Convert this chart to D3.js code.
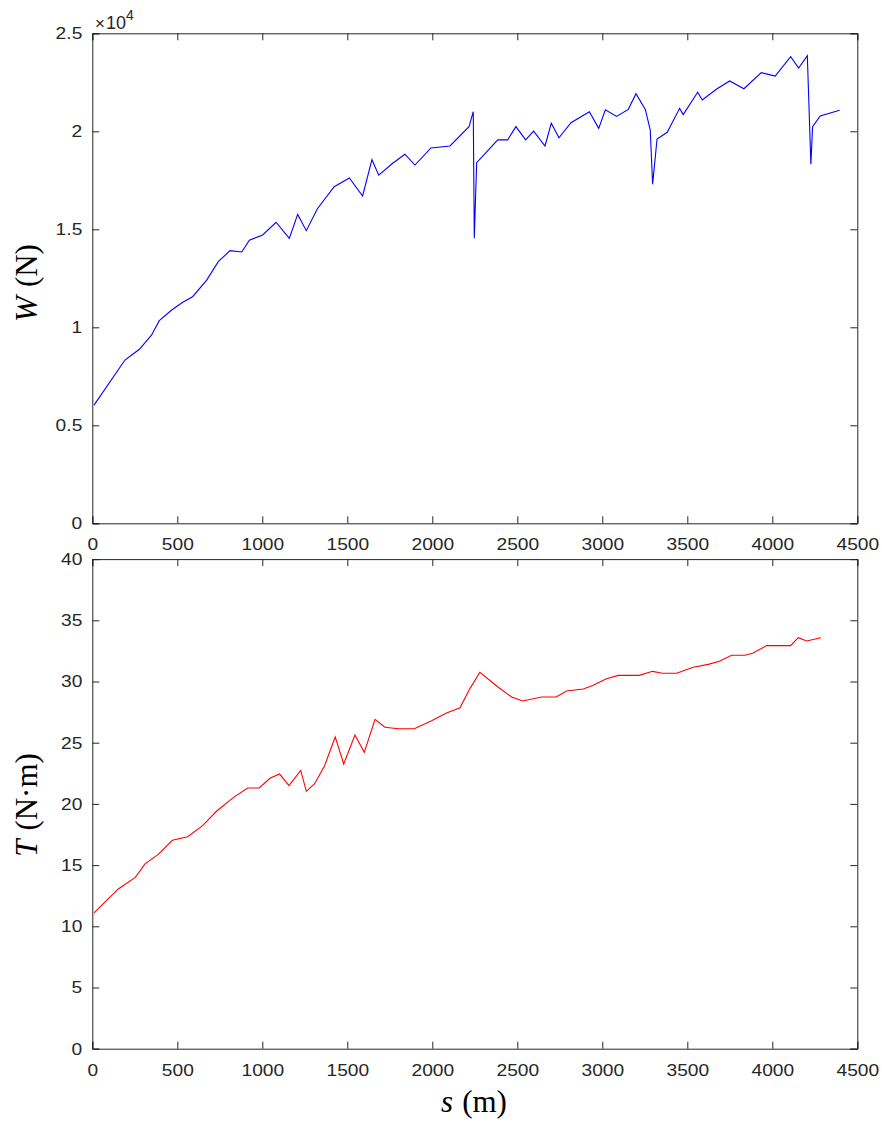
<!DOCTYPE html>
<html><head><meta charset="utf-8">
<script src="https://cdn.jsdelivr.net/npm/d3@7"></script>
<style>
body{margin:0;background:#fff}svg{display:block}
.tk{transform-box:fill-box;transform-origin:center;transform:scaleX(1.13)}
.tkl{transform-box:fill-box;transform-origin:right center;transform:scaleX(1.13)}
</style>
</head><body>
<svg id="c" width="882" height="1122"></svg>
<script>
// Top panel: W (N) vs s (m)
const sW = [10,192,277,349,394,467,532,590,673,741,810,879,924,1002,1081,1159,1208,1259,1324,1423,1512,1590,1645,1685,1767,1839,1898,1992,2104,2216,2241,2247,2261,2385,2443,2492,2549,2596,2663,2700,2745,2816,2924,2979,3018,3084,3153,3198,3253,3282,3296,3322,3382,3455,3476,3561,3588,3675,3749,3833,3935,4017,4108,4155,4206,4227,4237,4282,4396];
const W = [6030,8330,8880,9610,10340,10880,11280,11560,12410,13350,13910,13840,14440,14710,15360,14540,15760,14930,16050,17170,17620,16700,18550,17760,18370,18830,18280,19150,19250,20240,21000,14540,18400,19560,19560,20240,19560,20010,19250,20410,19670,20440,21000,20150,21100,20760,21120,21920,21120,20070,17300,19610,19950,21170,20850,21990,21600,22170,22570,22170,22990,22820,23810,23230,23860,18320,20240,20780,21070];
const yTicksW = [0,0.5,1,1.5,2,2.5];
// Bottom panel: T (N·m) vs s (m)
const sT = [10,153,253,310,388,471,561,649,732,829,914,982,1045,1102,1157,1226,1259,1308,1365,1429,1479,1545,1600,1663,1722,1800,1894,1996,2080,2163,2222,2280,2388,2467,2531,2643,2728,2790,2888,2947,3021,3094,3217,3296,3353,3437,3535,3623,3688,3761,3839,3884,3967,4108,4153,4202,4286];
const T = [11.1,13.05,14.0,15.1,15.88,17.03,17.32,18.22,19.42,20.51,21.3,21.3,22.09,22.44,21.49,22.74,21.03,21.65,23.07,25.47,23.26,25.63,24.21,26.91,26.26,26.14,26.14,26.8,27.4,27.86,29.44,30.75,29.53,28.73,28.41,28.73,28.73,29.22,29.39,29.69,30.2,30.5,30.5,30.83,30.67,30.67,31.16,31.4,31.65,32.14,32.14,32.3,32.93,32.93,33.58,33.31,33.58];
const yTicksT = [0,5,10,15,20,25,30,35,40];
const xTicks = [0,500,1000,1500,2000,2500,3000,3500,4000,4500];

const svg = d3.select("#c");
const axisCol = "#262626";
const sans = "'Liberation Sans',Arial,sans-serif";
const L = 92.3, R = 857.3;
const x = d3.scaleLinear().domain([0,4500]).range([L,R]);

function panel(top, bottom, yDomain, yTicks, xs, ys, color, yFmt) {
  const y = d3.scaleLinear().domain(yDomain).range([bottom, top]);
  const g = svg.append("g");
  const ax = d3.axisBottom(x).tickValues(xTicks).tickSize(-7).tickPadding(15).tickFormat(d3.format("d"));
  const axT = d3.axisTop(x).tickValues(xTicks).tickSize(-7).tickFormat("");
  const ay = d3.axisLeft(y).tickValues(yTicks).tickSize(-7).tickPadding(10).tickFormat(yFmt);
  const ayR = d3.axisRight(y).tickValues(yTicks).tickSize(-7).tickFormat("");
  const gx = g.append("g").attr("transform",`translate(0,${bottom})`).call(ax);
  const gxt = g.append("g").attr("transform",`translate(0,${top})`).call(axT);
  const gy = g.append("g").attr("transform",`translate(${L},0)`).call(ay);
  const gyr = g.append("g").attr("transform",`translate(${R},0)`).call(ayR);
  [gx,gxt,gy,gyr].forEach(a=>{
    a.selectAll("path").attr("stroke",axisCol).attr("stroke-width",1);
    a.selectAll("line").attr("stroke",axisCol).attr("stroke-width",1);
    a.selectAll("text").attr("fill",axisCol).style("font-family",sans).style("font-size","17px");
  });
  gx.selectAll("text").attr("class","tk");
  gy.selectAll("text").attr("class","tkl");
  const line = d3.line().x((d,i)=>x(xs[i])).y((d,i)=>y(ys[i]));
  g.append("path").datum(ys).attr("d",line).attr("fill","none").attr("stroke",color).attr("stroke-width",1.1);
  return y;
}

panel(33.3, 523.3, [0,25000], yTicksW.map(v=>v*1e4), sW, W, "#0000ff", d=>d3.format("")(d/1e4));
panel(559.1, 1048.7, [0,40], yTicksT, sT, T, "#ff0000", d3.format("d"));

// exponent label
const ex = svg.append("text").attr("x",95).attr("y",29).attr("fill",axisCol)
  .style("font-family",sans).style("font-size","17px");
ex.append("tspan").style("font-size","17px").text("×");
ex.append("tspan").attr("dx",1).style("font-size","18px").text("10");
ex.append("tspan").attr("dy",-9).style("font-size","14px").text("4");

const serif = "'Liberation Serif','Times New Roman',serif";
function ylab(cx, cy, sym, unit) {
  const t = svg.append("text").attr("transform",`translate(${cx},${cy}) rotate(-90)`)
    .attr("text-anchor","middle").attr("fill","#000")
    .style("font-family",serif).style("font-size","31px");
  t.append("tspan").style("font-style","italic").text(sym);
  t.append("tspan").attr("dx",9).text("(" + unit + ")");
}
ylab(37, 283, "W", "N");
ylab(37, 805, "T", "N·m");
const xl = svg.append("text").attr("x",474).attr("y",1112).attr("text-anchor","middle").attr("fill","#000")
  .style("font-family",serif).style("font-size","31px");
xl.append("tspan").style("font-style","italic").text("s");
xl.append("tspan").attr("dx",9).text("(m)");
</script>
</body></html>
